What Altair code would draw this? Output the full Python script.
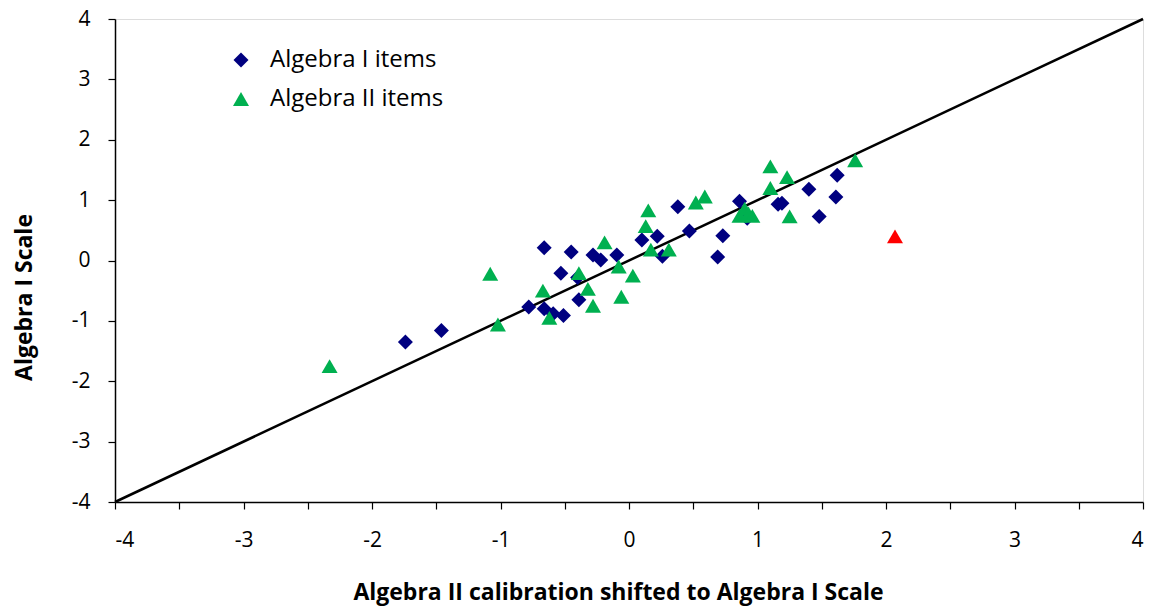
import altair as alt
import pandas as pd

# Algebra I items (diamonds)
alg1_x = [-1.74, -1.46, -0.78, -0.66, -0.66, -0.59, -0.51, -0.45, -0.53, -0.39, -0.40,
          -0.28, -0.22, -0.095, 0.10, 0.22, 0.26, 0.38, 0.47, 0.69, 0.73, 0.86, 0.92,
          1.16, 1.19, 1.40, 1.48, 1.61, 1.62]
alg1_y = [-1.35, -1.16, -0.77, 0.21, -0.80, -0.88, -0.91, 0.14, -0.21, -0.65, -0.28,
          0.09, 0.01, 0.09, 0.34, 0.40, 0.07, 0.89, 0.49, 0.06, 0.41, 0.98, 0.70,
          0.93, 0.95, 1.18, 0.73, 1.05, 1.41]

# Algebra II items (triangles)
alg2_x = [-2.33, -1.08, -1.02, -0.67, -0.62, -0.39, -0.32, -0.28, -0.19, -0.08, -0.06,
          0.03, 0.13, 0.15, 0.17, 0.31, 0.52, 0.59, 0.86, 0.90, 0.93, 0.96, 1.10,
          1.10, 1.23, 1.25, 1.76]
alg2_y = [-1.75, -0.22, -1.06, -0.50, -0.95, -0.21, -0.47, -0.75, 0.30, -0.10, -0.60,
          -0.25, 0.57, 0.83, 0.18, 0.18, 0.96, 1.06, 0.74, 0.86, 0.78, 0.74, 1.20,
          1.56, 1.38, 0.73, 1.66]

# Outlier item (red triangle)
out_x = [2.07]
out_y = [0.40]

# Identity line
line_x = [-4, 4]
line_y = [-4, 4]

tick_values = [v / 2 for v in range(-8, 9)]
series_names = ["Algebra I items", "Algebra II items"]

df_pts = pd.DataFrame({
    "x": alg1_x + alg2_x,
    "y": alg1_y + alg2_y,
    "series": [series_names[0]] * len(alg1_x) + [series_names[1]] * len(alg2_x),
})
df_out = pd.DataFrame({"x": out_x, "y": out_y})
df_line = pd.DataFrame({"x": line_x, "y": line_y})

FONT = "Open Sans"
label_expr = "datum.value % 1 == 0 ? '' + datum.value : ''"

xscale = alt.Scale(domain=[-4, 4], nice=False, zero=False)
yscale = alt.Scale(domain=[-4, 4], nice=False, zero=False)

xaxis = alt.Axis(values=tick_values, labelExpr=label_expr, grid=False, labelOverlap=False,
                 title="Algebra II calibration shifted to Algebra I Scale",
                 titleFontSize=23, titleFontWeight="bold", titleFont=FONT, titleColor="black",
                 titleX=503, titleAlign="center", titlePadding=31,
                 labelFont=FONT, labelFontSize=21, labelColor="black",
                 labelPadding=20, tickSize=7, tickColor="black", domainColor="black",
                 domainWidth=1.5, tickWidth=1.2)
yaxis = alt.Axis(values=tick_values, labelExpr=label_expr, grid=False, labelOverlap=False,
                 title="Algebra I Scale",
                 titleFontSize=23, titleFontWeight="bold", titleFont=FONT, titleColor="black",
                 titleX=-91, titleY=278, titleAlign="center", titleBaseline="middle",
                 labelFont=FONT, labelFontSize=21, labelColor="black",
                 labelPadding=18, tickSize=7, tickColor="black", domainColor="black",
                 domainWidth=1.5, tickWidth=1.2)

legend = alt.Legend(title=None, orient="none", legendX=114, legendY=29,
                    labelFont=FONT, labelFontSize=24, labelColor="black", labelLimit=400,
                    symbolSize=225, symbolStrokeWidth=0, labelOffset=17,
                    rowPadding=15)

line = alt.Chart(df_line).mark_line(color="black", strokeWidth=2.5).encode(
    x=alt.X("x:Q", scale=xscale, axis=xaxis),
    y=alt.Y("y:Q", scale=yscale, axis=yaxis),
)

points = alt.Chart(df_pts).mark_point(filled=True, opacity=1, strokeWidth=0).encode(
    x=alt.X("x:Q", scale=xscale),
    y=alt.Y("y:Q", scale=yscale),
    shape=alt.Shape("series:N", scale=alt.Scale(domain=series_names, range=["diamond", "triangle-up"]),
                    legend=legend),
    color=alt.Color("series:N", scale=alt.Scale(domain=series_names, range=["#000080", "#00B050"]),
                    legend=legend),
    size=alt.Size("series:N", scale=alt.Scale(domain=series_names, range=[225, 256]), legend=None),
)

outlier = alt.Chart(df_out).mark_point(filled=True, opacity=1, shape="triangle-up", size=256,
                                       color="#FF0000", strokeWidth=0).encode(
    x=alt.X("x:Q", scale=xscale),
    y=alt.Y("y:Q", scale=yscale),
)

chart = alt.layer(line, points, outlier).properties(
    width=1028, height=483,
    autosize=alt.AutoSizeParams(type="none"),
    padding={"left": 107, "top": 11, "right": 4, "bottom": 104},
).configure_view(stroke=None).configure(background="white")

chart.save("out.html", embed_options={"renderer": "svg", "actions": False})
